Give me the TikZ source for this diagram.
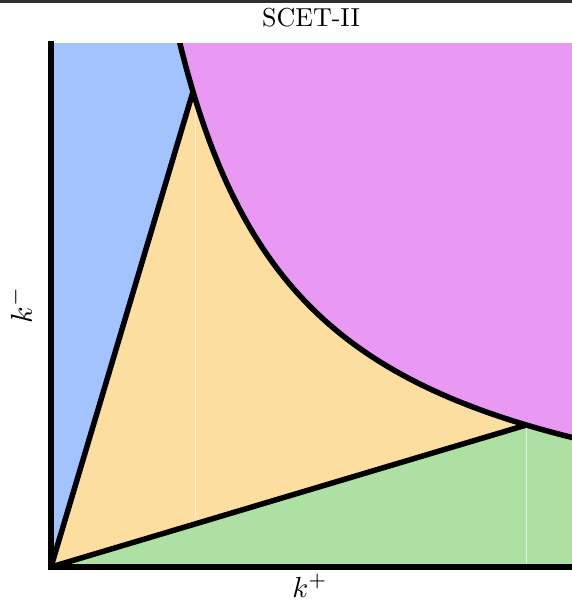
\documentclass[tikz,border=0pt]{standalone}
\begin{document}
\begin{tikzpicture}[x=1pt,y=1pt,
  edge/.style={line width=5.5pt,black,line join=round},
  seam/.style={white,opacity=0.6,line width=1pt}]
\definecolor{cblue}{RGB}{163,195,254}
\definecolor{cmag}{RGB}{233,153,243}
\definecolor{cyel}{RGB}{253,222,161}
\definecolor{cgreen}{RGB}{174,224,163}
\definecolor{cbar}{RGB}{48,48,48}
\useasboundingbox (0,0) rectangle (572,-603);
\fill[white] (0,0) rectangle (572,-603);
\fill[cbar] (0,0) rectangle (572,-2.5);
% key points (pixel coords, y downward negated)
\coordinate (O) at (51,-567);
\coordinate (A) at (193,-91.65);
\coordinate (B) at (526.35,-425);
\coordinate (T) at (179.8,-43);
\coordinate (R) at (572,-437.4);
\coordinate (TL) at (51,-43);
\coordinate (TR) at (572,-43);
\coordinate (BR) at (572,-567);
\begin{scope}
\clip (TL) rectangle (BR);
% blue
\fill[cblue] (O) -- (TL) -- (T) -- plot[domain=128.8:142,samples=20] ({51+\x},{-567+675/(\x/100)}) -- cycle;
% magenta
\fill[cmag] (T) -- plot[domain=128.8:521,samples=200] ({51+\x},{-567+675/(\x/100)}) -- (TR) -- cycle;
% yellow
\fill[cyel] (O) -- (A) -- plot[domain=142:475.35,samples=150] ({51+\x},{-567+675/(\x/100)}) -- cycle;
% green
\fill[cgreen] (O) -- (B) -- plot[domain=475.35:521,samples=30] ({51+\x},{-567+675/(\x/100)}) -- (BR) -- cycle;
% seams
\draw[seam] (195,-98) -- (195,-518);
\draw[seam] (526.5,-427) -- (526.5,-564);
% boundaries
\draw[edge] (O) -- (A);
\draw[edge] (O) -- (B);
\draw[edge] plot[domain=125:525,samples=250] ({51+\x},{-567+675/(\x/100)});
\end{scope}
% axes
\draw[line width=6pt] (51,-41) -- (51,-567);
\draw[line width=6pt] (48,-567) -- (572,-567);
% labels
\node[scale=2.6] (title) at (311,-18) {SCET-II};
\node[scale=2.9,inner sep=0pt,anchor=base] (xl) at (310,-597) {$k^+$};
\node[scale=3,rotate=90] (yl) at (20,-305) {$k^-$};
\end{tikzpicture}
\end{document}
